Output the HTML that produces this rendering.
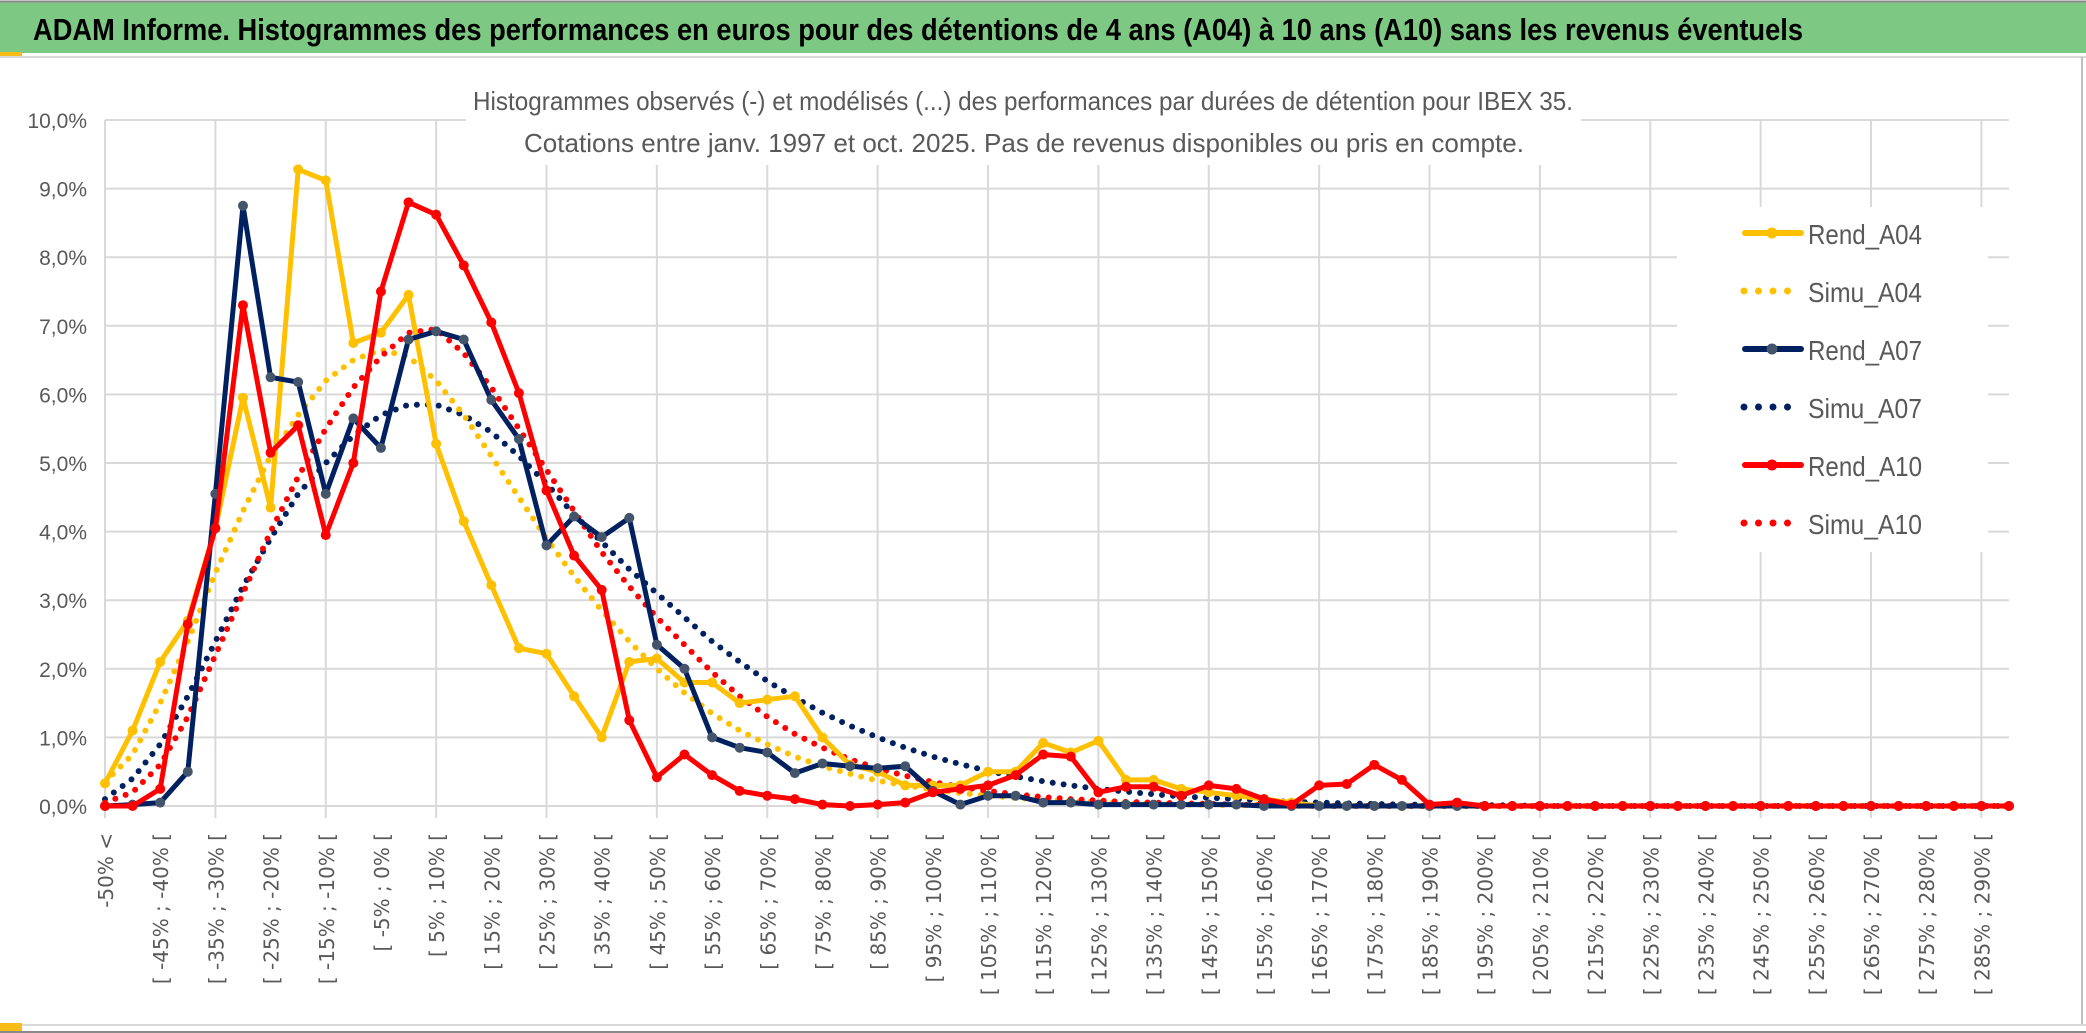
<!DOCTYPE html>
<html><head><meta charset="utf-8"><style>
html,body{margin:0;padding:0;background:#fff;}
svg{display:block;}
</style></head><body>
<svg id="chart" width="2086" height="1033" viewBox="0 0 2086 1033" xmlns="http://www.w3.org/2000/svg">
<rect x="0" y="0" width="2086" height="1033" fill="#fff"/>
<rect x="0" y="2" width="2086" height="51" fill="#7dc883"/>
<line x1="0" y1="1.5" x2="2086" y2="1.5" stroke="#8a8a8a" stroke-width="2"/>
<rect x="0" y="52" width="22" height="4" fill="#f5bd16"/>
<line x1="0" y1="57" x2="2086" y2="57" stroke="#d9d9d9" stroke-width="2"/>
<text x="33" y="40" font-family="Liberation Sans, sans-serif" font-weight="bold" font-size="31" textLength="1770" lengthAdjust="spacingAndGlyphs" fill="#000">ADAM Informe. Histogrammes des performances en euros pour des détentions de 4 ans (A04) à 10 ans (A10) sans les revenus éventuels</text>
<line x1="2082" y1="57" x2="2082" y2="1025" stroke="#bfbfbf" stroke-width="2"/>
<line x1="0" y1="1025" x2="2086" y2="1025" stroke="#d9d9d9" stroke-width="2"/>
<rect x="0" y="1023" width="22" height="8" fill="#f5bd16"/>
<line x1="0" y1="1032" x2="2086" y2="1032" stroke="#8a8a8a" stroke-width="2"/>
<g id="grid"></g>
<g id="xlabels"></g>
<g id="ylabels"></g>
<rect x="466" y="78" width="1115" height="87" fill="#fff"/>
<text x="1023" y="110" text-anchor="middle" font-family="Liberation Sans, sans-serif" font-size="26" textLength="1100" lengthAdjust="spacingAndGlyphs" fill="#595959">Histogrammes observés (-) et modélisés (...) des performances par durées de détention pour IBEX 35.</text>
<text x="1024" y="152" text-anchor="middle" font-family="Liberation Sans, sans-serif" font-size="26" textLength="1000" lengthAdjust="spacingAndGlyphs" fill="#595959">Cotations entre janv. 1997 et oct. 2025. Pas de revenus disponibles ou pris en compte.</text>
<g id="series"></g>
<rect x="1677" y="207" width="311" height="345" fill="#fff"/>
<g id="legend"></g>
</svg>
<script>
const NS="http://www.w3.org/2000/svg";
const categories=[];
categories.push("-50% <");
for(let i=1;i<70;i++){categories.push("[ "+(-55+5*i)+"% ; "+(-50+5*i)+"% [");}
const yTicks=[0,1,2,3,4,5,6,7,8,9,10];
const yTickLabels=["0,0%","1,0%","2,0%","3,0%","4,0%","5,0%","6,0%","7,0%","8,0%","9,0%","10,0%"];
const seriesNames=["Rend_A04","Simu_A04","Rend_A07","Simu_A07","Rend_A10","Simu_A10"];
const rendA04=[0.33,1.1,2.1,2.7,4.05,5.95,4.35,9.28,9.12,6.75,6.9,7.45,5.28,4.15,3.22,2.3,2.22,1.6,1.0,2.1,2.15,1.8,1.8,1.5,1.55,1.6,1.0,0.6,0.5,0.3,0.3,0.3,0.5,0.5,0.92,0.78,0.95,0.38,0.38,0.25,0.2,0.15,0.1,0.05,0,0,0,0,0,0,0,0,0,0,0,0,0,0,0,0,0,0,0,0,0,0,0,0,0,0];
const simuA04=[0.35,0.75,1.5,2.4,3.4,4.3,5.1,5.7,6.2,6.5,6.65,6.55,6.2,5.7,5.1,4.5,3.9,3.35,2.85,2.4,2.0,1.65,1.35,1.1,0.9,0.72,0.58,0.47,0.37,0.3,0.24,0.19,0.15,0.12,0.09,0.07,0.06,0.04,0.03,0.02,0.02,0.01,0.01,0,0,0,0,0,0,0,0,0,0,0,0,0,0,0,0,0,0,0,0,0,0,0,0,0,0,0];
const rendA07=[0,0.02,0.05,0.5,4.55,8.75,6.25,6.18,4.55,5.65,5.22,6.8,6.92,6.8,5.92,5.35,3.8,4.22,3.92,4.2,2.35,2.0,1.0,0.85,0.78,0.48,0.62,0.58,0.55,0.58,0.22,0.02,0.15,0.15,0.05,0.05,0.02,0.02,0.02,0.02,0.02,0.02,0,0,0,0,0,0,0,0,0,0,0,0,0,0,0,0,0,0,0,0,0,0,0,0,0,0,0,0];
const simuA07=[0.1,0.4,0.9,1.6,2.4,3.2,3.9,4.55,5.0,5.4,5.7,5.85,5.85,5.7,5.45,5.1,4.7,4.25,3.85,3.45,3.1,2.75,2.4,2.1,1.82,1.58,1.36,1.17,1.0,0.85,0.72,0.61,0.51,0.43,0.36,0.3,0.25,0.21,0.17,0.14,0.12,0.1,0.08,0.06,0.05,0.04,0.03,0.02,0.02,0.01,0.01,0.01,0,0,0,0,0,0,0,0,0,0,0,0,0,0,0,0,0,0];
const rendA10=[0,0,0.25,2.65,4.05,7.3,5.15,5.55,3.95,5.0,7.5,8.8,8.62,7.88,7.05,6.02,4.6,3.65,3.15,1.25,0.42,0.75,0.45,0.22,0.15,0.1,0.02,0,0.02,0.05,0.2,0.25,0.3,0.45,0.75,0.72,0.2,0.28,0.28,0.15,0.3,0.25,0.1,0.02,0.3,0.32,0.6,0.38,0.02,0.05,0,0,0,0,0,0,0,0,0,0,0,0,0,0,0,0,0,0,0,0];
const simuA10=[0.05,0.2,0.6,1.3,2.2,3.1,4.0,4.8,5.5,6.1,6.55,6.9,6.95,6.6,6.1,5.5,4.9,4.3,3.7,3.2,2.75,2.35,1.95,1.6,1.3,1.05,0.85,0.68,0.55,0.44,0.35,0.28,0.22,0.17,0.13,0.1,0.08,0.06,0.05,0.04,0.03,0.02,0.01,0.01,0,0,0,0,0,0,0,0,0,0,0,0,0,0,0,0,0,0,0,0,0,0,0,0,0,0];

const X0=105, X1=2009, Y0=806, Y10=120;
const xs=i=>X0+(X1-X0)*i/(categories.length-1);
const ys=v=>Y0-(Y0-Y10)*v/10;
function mk(tag,attrs,parent){const e=document.createElementNS(NS,tag);for(const k in attrs)e.setAttribute(k,attrs[k]);parent.appendChild(e);return e;}

const grid=document.getElementById('grid');
yTicks.forEach(t=>{
  const l=mk('line',{x1:X0,x2:X1,y1:ys(t),y2:ys(t),stroke:'#d9d9d9','stroke-width':2},grid);
  
  
});
for(let i=0;i<categories.length;i+=4){
  const l=mk('line',{x1:xs(i),x2:xs(i),y1:Y10,y2:Y0+12,stroke:'#d9d9d9','stroke-width':2},grid);
  
  
}
const yl=document.getElementById('ylabels');
yTicks.forEach((t,k)=>{
  const tx=mk('text',{x:87,y:ys(t)+8,'text-anchor':'end','font-family':'Liberation Sans, sans-serif','font-size':21,fill:'#595959'},yl);
  tx.textContent=yTickLabels[k];
  
  
});
const xl=document.getElementById('xlabels');
categories.forEach((c,i)=>{
  if(i%2!==0)return;
  const x=xs(i)+8, y=833;
  const tx=mk('text',{x:x,y:y,'text-anchor':'end','font-family':'DejaVu Sans, sans-serif','font-size':20,fill:'#595959',transform:`rotate(-90 ${x} ${y})`},xl);
  tx.textContent=c;
  
  
});
const sg=document.getElementById('series');
function pts(arr){return arr.map((v,i)=>xs(i).toFixed(1)+','+ys(v).toFixed(1)).join(' ');}
function dotted(arr,color,name){
  const p=mk('polyline',{points:pts(arr),fill:'none',stroke:color,'stroke-width':6,'stroke-linecap':'round','stroke-dasharray':'0 11'},sg);
  
  
}
function solid(arr,color,mcolor,name){
  const g=mk('g',{},sg);
  
  
  mk('polyline',{points:pts(arr),fill:'none',stroke:color,'stroke-width':5,'stroke-linejoin':'round'},g);
  arr.forEach((v,i)=>{
    const c=mk('circle',{cx:xs(i),cy:ys(v),r:5,fill:mcolor},g);
    
    
  });
}
dotted(simuA07,'#002060','simu-a07-line');
dotted(simuA04,'#ffc000','simu-a04-line');
dotted(simuA10,'#ff0000','simu-a10-line');
solid(rendA04,'#ffc000','#ffc000','rend-a04-line');
solid(rendA07,'#002060','#44546a','rend-a07-line');
solid(rendA10,'#ff0000','#ff0000','rend-a10-line');

const lg=document.getElementById('legend');
const legColors=['#ffc000','#ffc000','#002060','#002060','#ff0000','#ff0000'];
const legSolid=[true,false,true,false,true,false];
seriesNames.forEach((n,k)=>{
  const y=233+k*58;
  const g=mk('g',{},lg);
  
  
  if(legSolid[k]){
    mk('line',{x1:1745,x2:1801,y1:y,y2:y,stroke:legColors[k],'stroke-width':6,'stroke-linecap':'round'},g);
    mk('circle',{cx:1772,cy:y,r:5.5,fill:k===2?'#44546a':legColors[k]},g);
  } else {
    mk('line',{x1:1744,x2:1797,y1:y,y2:y,stroke:legColors[k],'stroke-width':7,'stroke-linecap':'round','stroke-dasharray':'0 14.5'},g);
  }
  const t=mk('text',{x:1808,y:y+11,'font-family':'Liberation Sans, sans-serif','font-size':28,fill:'#595959',textLength:114,lengthAdjust:'spacingAndGlyphs'},g);
  t.textContent=n;
});
</script>
</body></html>
